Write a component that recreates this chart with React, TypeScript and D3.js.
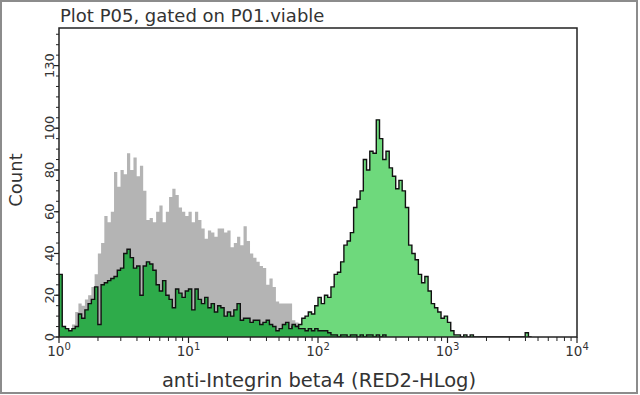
import React from 'react'
import * as d3 from 'd3'

// channel histograms on a 4-decade log axis, 40 bins per decade
const BINS_PER_DECADE = 40

// grey control histogram, first bin index
const grayStart = 4
const grayCounts = [6, 12, 16, 15, 18, 20, 24, 30, 40, 45, 58, 55, 60, 79, 72, 80, 78, 88, 80, 86, 77, 82, 70, 56, 57, 55, 60, 63, 55, 60, 67, 71, 68, 62, 60, 58, 60, 55, 60, 56, 52, 47, 51, 50, 48, 52, 52, 50, 51, 43, 45, 48, 44, 53, 46, 40, 38, 36, 34, 33, 25, 28, 24, 17, 16, 16, 16, 16, 8, 7, 5, 4, 2, 1]

// dark green histogram
const darkStart = 0
const darkCounts = [30, 5, 4, 3, 4, 5, 11, 9, 13, 16, 18, 24, 6, 25, 26, 27, 28, 29, 32, 33, 40, 42, 38, 33, 34, 20, 34, 36, 35, 32, 25, 22, 27, 20, 18, 14, 23, 21, 19, 22, 23, 13, 23, 18, 16, 19, 14, 16, 12, 15, 14, 10, 12, 10, 13, 16, 8, 9, 9, 7, 8, 8, 6, 7, 8, 6, 5, 3, 4, 6, 7, 4, 6, 5, 4, 4, 3, 4, 3, 4, 3, 3, 3, 2, 1, 1, 0, 1, 1, 0, 1, 1, 0, 1, 0, 1, 1, 0, 1, 0, 1]

// light green histogram
const lightStart = 70
const lightCounts = [2, 3, 5, 5, 6, 9, 10, 12, 11, 15, 19, 16, 20, 19, 24, 30, 31, 36, 44, 46, 50, 62, 66, 70, 85, 80, 89, 88, 104, 95, 85, 89, 81, 77, 71, 75, 70, 62, 44, 40, 37, 30, 26, 29, 22, 16, 14, 12, 9, 10, 7, 3, 1, 1, 0, 1, 0, 1, 0, 0, 0, 0, 0, 0, 0, 0, 0, 0, 0, 0, 0, 0, 0, 0, 2, 0]

const xTicks = [1, 10, 100, 1000, 10000]
const xTickExp = ['0', '1', '2', '3', '4']
const yTicks = [0, 20, 40, 60, 80, 100, 130]

const titleText = 'Plot P05, gated on P01.viable'
const xTitle = 'anti-Integrin beta4 (RED2-HLog)'
const yTitle = 'Count'

const FONT = '"DejaVu Sans", Verdana, sans-serif'

export default class App extends React.Component {
	svgRef = React.createRef<SVGSVGElement>()

	componentDidMount() {
		this.draw()
	}

	draw() {
		const svg = d3.select(this.svgRef.current)
		svg.selectAll('*').remove()

		const left = 59, right = 577, top = 28, bottom = 337

		const x = d3.scaleLog().domain([1, 10000]).range([left, right])
		const y = d3.scaleLinear().domain([0, 148]).range([bottom, top])

		// outer frame
		svg.append('rect')
			.attr('x', 1).attr('y', 1).attr('width', 636).attr('height', 392)
			.attr('fill', '#fff').attr('stroke', '#8c8c8c').attr('stroke-width', 2)

		svg.append('defs').append('clipPath').attr('id', 'plotclip')
			.append('rect').attr('x', left).attr('y', top)
			.attr('width', right - left).attr('height', bottom - top)

		const edge = (i: number) => Math.pow(10, i / BINS_PER_DECADE)
		const toPoints = (start: number, counts: number[]) => {
			const pts = [{ e: edge(start), v: 0 }]
			counts.forEach((v, k) => pts.push({ e: edge(start + k), v }))
			pts.push({ e: edge(start + counts.length), v: 0 })
			return pts
		}

		const area = d3.area<{ e: number, v: number }>()
			.x(d => x(d.e)).y0(y(0)).y1(d => y(d.v)).curve(d3.curveStepAfter)
		const line = d3.line<{ e: number, v: number }>()
			.x(d => x(d.e)).y(d => y(d.v)).curve(d3.curveStepAfter)

		const plot = svg.append('g').attr('clip-path', 'url(#plotclip)')

		const gray = toPoints(grayStart, grayCounts)
		const light = toPoints(lightStart, lightCounts)
		const dark = toPoints(darkStart, darkCounts)

		plot.append('path').attr('d', area(gray)).attr('fill', '#b4b4b4')
		plot.append('path').attr('d', area(light)).attr('fill', '#6ed97c')
		plot.append('path').attr('d', line(light)).attr('fill', 'none')
			.attr('stroke', '#111').attr('stroke-width', 1.4)
		plot.append('path').attr('d', area(dark)).attr('fill', '#2eab4a')
		plot.append('path').attr('d', line(dark)).attr('fill', 'none')
			.attr('stroke', '#111').attr('stroke-width', 1.4)

		// plot border
		svg.append('rect')
			.attr('x', left).attr('y', top).attr('width', right - left).attr('height', bottom - top)
			.attr('fill', 'none').attr('stroke', '#222').attr('stroke-width', 1.5)

		// x axis ticks (log, pointing down)
		const minor: number[] = []
		for (let d = 1; d < 10000; d *= 10)
			for (let m = 2; m <= 9; m++) minor.push(d * m)
		svg.append('g').selectAll('line.minor').data(minor).enter().append('line')
			.attr('x1', d => x(d)).attr('x2', d => x(d))
			.attr('y1', bottom).attr('y2', bottom + 4)
			.attr('stroke', '#222').attr('stroke-width', 1)
		svg.append('g').selectAll('line.major').data(xTicks).enter().append('line')
			.attr('x1', d => x(d)).attr('x2', d => x(d))
			.attr('y1', bottom).attr('y2', bottom + 6)
			.attr('stroke', '#222').attr('stroke-width', 1.2)

		const xl = svg.append('g').selectAll('text').data(xTicks).enter().append('text')
			.attr('x', d => x(d)).attr('y', 356)
			.attr('text-anchor', 'middle')
			.attr('font-family', FONT).attr('font-size', 13.5).attr('fill', '#333')
		xl.append('tspan').text('10')
		xl.append('tspan').attr('dy', -6).attr('font-size', 10).text((d, i) => xTickExp[i])

		// y axis ticks
		const yMinor = d3.range(0, 149, 5)
		svg.append('g').selectAll('line').data(yMinor).enter().append('line')
			.attr('x1', left - 3).attr('x2', left)
			.attr('y1', d => y(d)).attr('y2', d => y(d))
			.attr('stroke', '#222').attr('stroke-width', 1)
		svg.append('g').selectAll('line').data(yTicks).enter().append('line')
			.attr('x1', left - 5).attr('x2', left)
			.attr('y1', d => y(d)).attr('y2', d => y(d))
			.attr('stroke', '#222').attr('stroke-width', 1.2)
		svg.append('g').selectAll('text').data(yTicks).enter().append('text')
			.attr('transform', d => `translate(${left - 5},${y(d)}) rotate(-90)`)
			.attr('text-anchor', 'middle')
			.attr('font-family', FONT).attr('font-size', 13).attr('fill', '#333')
			.text(d => String(d))

		// titles
		svg.append('text').attr('x', 60).attr('y', 22)
			.attr('font-family', FONT).attr('font-size', 18).attr('fill', '#333')
			.text(titleText)
		svg.append('text').attr('x', 319).attr('y', 387).attr('text-anchor', 'middle')
			.attr('font-family', FONT).attr('font-size', 19.5).attr('fill', '#333')
			.text(xTitle)
		svg.append('text').attr('transform', 'translate(22,180) rotate(-90)')
			.attr('text-anchor', 'middle')
			.attr('font-family', FONT).attr('font-size', 18).attr('fill', '#333')
			.text(yTitle)
	}

	render() {
		return (
			<svg ref={this.svgRef} width={640} height={395}
				style={{ position: 'absolute', left: 0, top: 0, background: '#fff' }} />
		)
	}
}
